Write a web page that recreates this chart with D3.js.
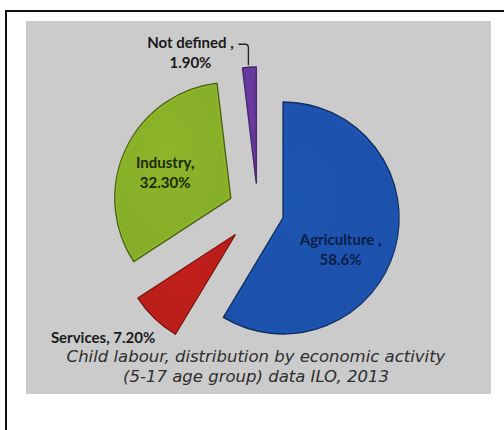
<!DOCTYPE html>
<html>
<head>
<meta charset="utf-8">
<script src="https://cdn.jsdelivr.net/npm/d3@7"></script>
<style>
  html, body { margin: 0; padding: 0; background: #fff; }
  svg { display: block; }
</style>
</head>
<body>
<svg width="504" height="430"></svg>
<script>
// data (clockwise from 12 o'clock)
var categories = ["Agriculture", "Services", "Industry", "Not defined"];
var shares = [58.6, 7.2, 32.3, 1.9];
var labelText = ["Agriculture ,|58.6%", "Services, 7.20%", "Industry,|32.30%", "Not defined ,|1.90%"];
var caption = ["Child labour, distribution by economic activity", "(5-17 age group) data ILO, 2013"];

var svg = d3.select("svg"),
    width = +svg.attr("width"),
    height = +svg.attr("height");

// frame + grey panel
svg.append("rect")
    .attr("x", 6).attr("y", 11)
    .attr("width", width + 20).attr("height", height + 20)
    .attr("fill", "none").attr("stroke", "#111").attr("stroke-width", 2);

svg.append("rect")
    .attr("x", 26).attr("y", 21)
    .attr("width", 465).attr("height", 373)
    .attr("fill", "#cbcbcb");

var cx = 258, cy = 211, radius = 116;

// how far each slice is pulled out
var explode = { "Agriculture": 26, "Services": 33, "Industry": 30, "Not defined": 28 };
var fills = { "Agriculture": "#1c51ab", "Services": "#b91e19", "Industry": "#86ad28", "Not defined": "#66389a" };

var pie = d3.pie().sort(null).value(function (d) { return d.v; });
var arcs = pie(categories.map(function (c, i) { return { name: c, v: shares[i], label: labelText[i] }; }));

var arc = d3.arc().innerRadius(0).outerRadius(radius);
var labelArc = d3.arc().innerRadius(68).outerRadius(68);

function shift(d) {
    var a = (d.startAngle + d.endAngle) / 2, k = explode[d.data.name];
    return [Math.sin(a) * k, -Math.cos(a) * k];
}

var defs = svg.append("defs");
arcs.forEach(function (d, i) {
    var c = d3.color(fills[d.data.name]);
    var g = defs.append("radialGradient")
        .attr("id", "grad" + i)
        .attr("cx", "45%").attr("cy", "40%").attr("r", "75%");
    g.append("stop").attr("offset", "0%").attr("stop-color", c.brighter(0.12));
    g.append("stop").attr("offset", "85%").attr("stop-color", c);
    g.append("stop").attr("offset", "100%").attr("stop-color", c.darker(0.35));
});

var g = svg.append("g").attr("transform", "translate(" + cx + "," + cy + ")");

var slice = g.selectAll("g.slice")
    .data(arcs)
    .enter().append("g")
      .attr("class", "slice")
      .attr("transform", function (d) { return "translate(" + shift(d) + ")"; });

slice.append("path")
    .attr("d", arc)
    .attr("fill", function (d, i) { return "url(#grad" + i + ")"; })
    .attr("stroke", function (d) { return d3.color(fills[d.data.name]).darker(1.6); })
    .attr("stroke-width", 1.4)
    .attr("stroke-linejoin", "round");

// inner bevel highlight
slice.append("path")
    .attr("d", d3.arc().innerRadius(0).outerRadius(radius - 3))
    .attr("fill", "none")
    .attr("stroke", function (d) { return d3.color(fills[d.data.name]).brighter(0.5); })
    .attr("stroke-opacity", 0.3)
    .attr("stroke-width", 1.5)
    .attr("transform", function (d) {
        var a = (d.startAngle + d.endAngle) / 2;
        return "translate(" + (Math.sin(a) * 2) + "," + (-Math.cos(a) * 2) + ")";
    });

// labels inside the big slices
var nudge = { "Agriculture": [-8, 14], "Industry": [-4, 3] };
var inside = slice.filter(function (d) { return nudge[d.data.name]; });

inside.append("text")
    .attr("text-anchor", "middle")
    .attr("font-family", "Lato, 'Open Sans', sans-serif")
    .attr("font-weight", "bold")
    .attr("font-size", 15)
    .attr("fill", function (d) { return d.data.name === "Agriculture" ? "#0b1d45" : "#1c2a08"; })
    .attr("transform", function (d) {
        var p = labelArc.centroid(d), n = nudge[d.data.name];
        return "translate(" + (p[0] + n[0]) + "," + (p[1] + n[1]) + ")";
    })
    .selectAll("tspan")
    .data(function (d) { return d.data.label.split("|"); })
    .enter().append("tspan")
      .attr("x", 0)
      .attr("y", function (t, j) { return j * 20 - 5; })
      .text(function (t) { return t; });

// Services label, below-left of its slice
var serv = arcs[1];
var sp = arc.centroid(serv), ss = shift(serv);
g.append("text")
    .attr("x", sp[0] + ss[0] - 144)
    .attr("y", sp[1] + ss[1] + 66)
    .attr("font-family", "Lato, 'Open Sans', sans-serif")
    .attr("font-weight", "bold")
    .attr("font-size", 15)
    .attr("fill", "#1a1a1a")
    .text(serv.data.label);

// Not defined label with leader line
var nd = arcs[3];
var na = (nd.startAngle + nd.endAngle) / 2, nk = radius + explode[nd.data.name];
var tip = [Math.sin(na) * nk, -Math.cos(na) * nk];
g.append("path")
    .attr("d", "M" + (tip[0] - 11) + "," + (tip[1] - 23) +
               "H" + (tip[0] - 4) +
               "Q" + (tip[0] - 1) + "," + (tip[1] - 23) + " " + (tip[0] - 1) + "," + (tip[1] - 19) +
               "V" + (tip[1] - 2))
    .attr("fill", "none")
    .attr("stroke", "#222")
    .attr("stroke-width", 1.3);

g.append("text")
    .attr("text-anchor", "middle")
    .attr("font-family", "Lato, 'Open Sans', sans-serif")
    .attr("font-weight", "bold")
    .attr("font-size", 15)
    .attr("fill", "#1a1a1a")
    .attr("transform", "translate(" + (tip[0] - 59) + "," + (tip[1] - 19) + ")")
    .selectAll("tspan")
    .data(nd.data.label.split("|"))
    .enter().append("tspan")
      .attr("x", 0)
      .attr("y", function (t, j) { return j * 20; })
      .text(function (t) { return t; });

// caption
svg.append("g")
    .selectAll("text")
    .data(caption)
    .enter().append("text")
      .attr("x", 256)
      .attr("y", function (t, i) { return 362 + i * 20; })
      .attr("text-anchor", "middle")
      .attr("font-family", "'DejaVu Sans', Verdana, sans-serif")
      .attr("font-style", "italic")
      .attr("font-size", 16.5)
      .attr("fill", "#2e2e2e")
      .text(function (t) { return t; });
</script>
</body>
</html>
